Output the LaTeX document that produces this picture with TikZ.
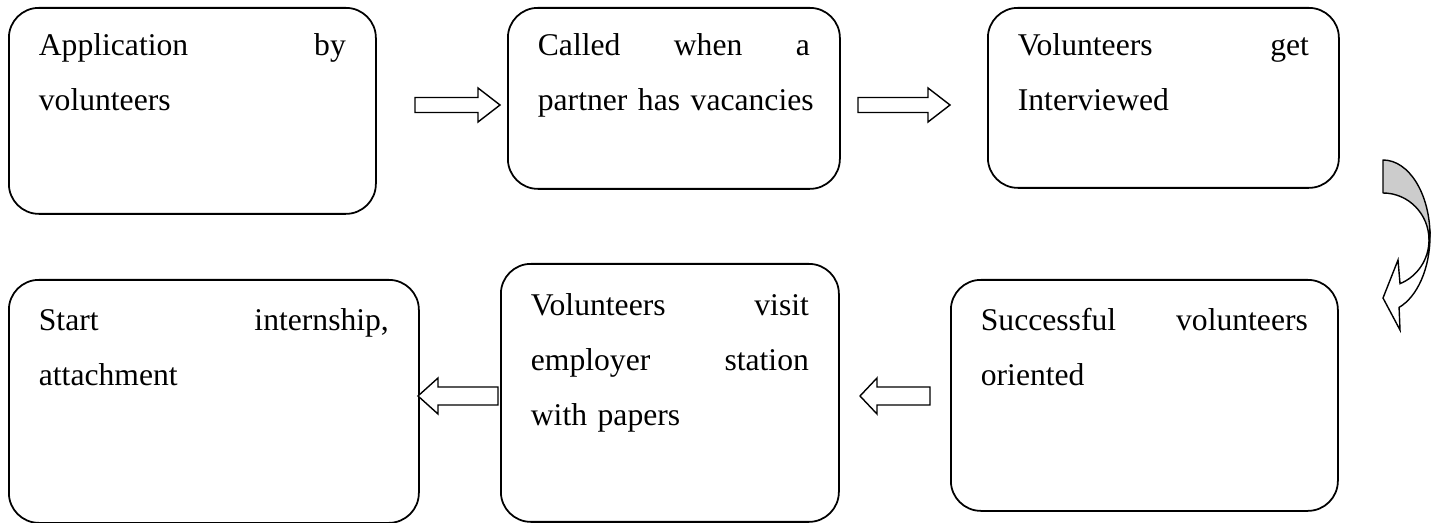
\documentclass[tikz,border=0pt]{standalone}
\usepackage{fontspec}
\setmainfont{Liberation Serif}
\usepackage{tikz}
\definecolor{foldgray}{HTML}{CCCCCC}
\tikzset{
  every picture/.style={line join=round, line cap=round},
  stepbox/.style={draw, line width=1pt, rounded corners=0.6cm, inner xsep=0.6cm, inner ysep=0pt,
    anchor=north west, align=left, font=\fontsize{18pt}{31.3pt}\selectfont},
  blockarrow/.style={draw, fill=white, line width=0.8pt, line join=miter},
}

\begin{document}
\begin{tikzpicture}
\useasboundingbox (0,0) rectangle (28.780,-10.460);
% top row
\node[stepbox, text width=6.14cm, text height=0.96cm, text depth=3.16cm] (apply) at (0.160,-0.140)
  {Application\hfill by\\volunteers};
\node[stepbox, text width=5.44cm, text height=0.96cm, text depth=2.66cm] (called) at (10.140,-0.140)
  {Called\hfill when\hfill a\\\mbox{partner has vacancies}};
\node[stepbox, text width=5.82cm, text height=0.96cm, text depth=2.64cm] (interview) at (19.740,-0.140)
  {Volunteers\hfill get\\Interviewed};
% bottom row
\node[stepbox, text width=7.00cm, text height=1.02cm, text depth=3.84cm] (start) at (0.160,-5.580)
  {Start\hfill internship,\\attachment};
\node[stepbox, text width=5.56cm, text height=1.04cm, text depth=4.12cm] (visit) at (10.000,-5.260)
  {Volunteers\hfill visit\\employer\hfill station\\with papers};
\node[stepbox, text width=6.54cm, text height=1.02cm, text depth=3.60cm] (orient) at (19.000,-5.580)
  {Successful\hfill volunteers\\oriented};
% block arrows
\draw[blockarrow](8.300,-1.950)--(9.560,-1.950)--(9.560,-1.760)--(10.000,-2.100)--(9.560,-2.440)--(9.560,-2.250)--(8.300,-2.250)--cycle;
\draw[blockarrow](17.160,-1.950)--(18.560,-1.950)--(18.560,-1.760)--(19.000,-2.100)--(18.560,-2.440)--(18.560,-2.250)--(17.160,-2.250)--cycle;
\draw[blockarrow](18.600,-7.740)--(17.540,-7.740)--(17.540,-7.560)--(17.200,-7.920)--(17.540,-8.280)--(17.540,-8.100)--(18.600,-8.100)--cycle;
\draw[blockarrow](9.960,-7.740)--(8.760,-7.740)--(8.760,-7.560)--(8.360,-7.920)--(8.760,-8.280)--(8.760,-8.100)--(9.960,-8.100)--cycle;
% curved arrow on the right
\draw[line width=0.8pt, fill=foldgray](27.660,-3.200) arc[start angle=90, end angle=0, x radius=0.94, y radius=1.52]
  --(28.580,-4.800) arc[start angle=0, end angle=90, x radius=0.92, y radius=0.94]--cycle;
\draw[blockarrow](28.600,-4.720) arc[start angle=0, end angle=-70, x radius=0.94, y radius=1.52]
  --(28.000,-6.600)--(27.660,-5.960)--(27.960,-5.200)--(28.000,-5.673)
  arc[start angle=-68.3, end angle=0, x radius=0.92, y radius=0.94]--cycle;
\end{tikzpicture}
\end{document}
